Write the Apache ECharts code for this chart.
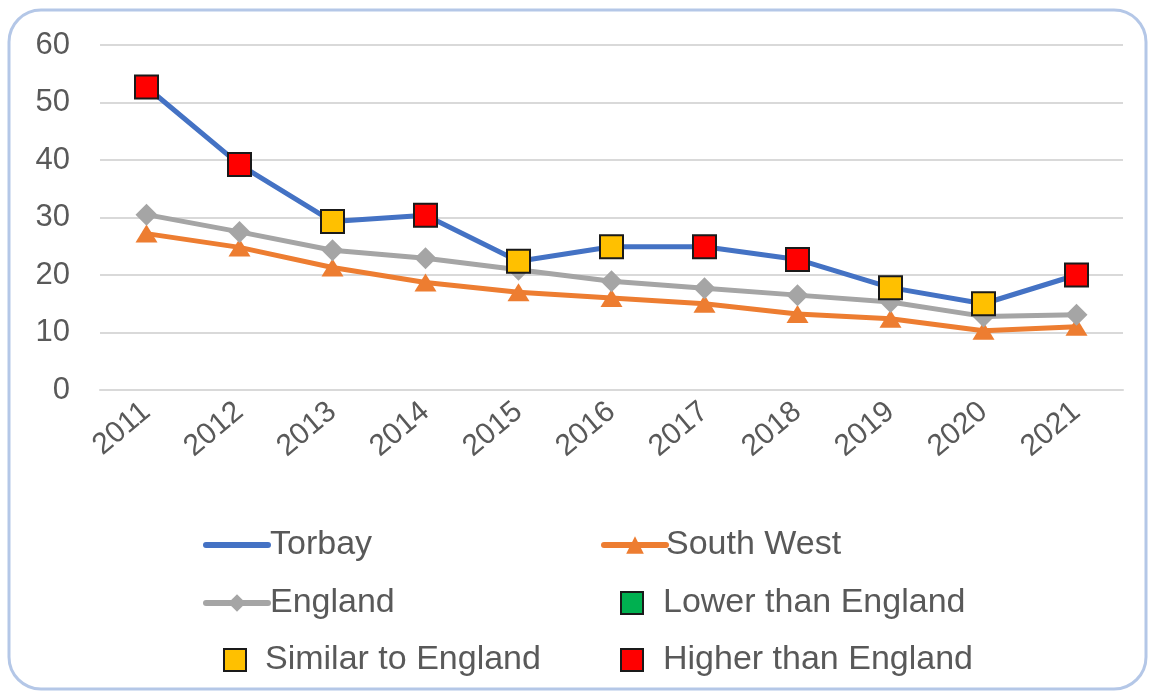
<!DOCTYPE html>
<html>
<head>
<meta charset="utf-8">
<script src="https://cdn.jsdelivr.net/npm/echarts@6/dist/echarts.min.js"></script>
<style>
  html, body { margin: 0; padding: 0; background: #fff; }
  #chart { width: 1149px; height: 696px; }
</style>
</head>
<body>
<div id="chart"></div>
<script>
// years on the x axis
const years = ['2011', '2012', '2013', '2014', '2015', '2016', '2017', '2018', '2019', '2020', '2021']

// rates
const torbay = [52.7, 39.2, 29.3, 30.4, 22.4, 24.9, 24.9, 22.7, 17.8, 15.0, 20.0]
const southWest = [27.2, 24.8, 21.3, 18.7, 17.0, 16.0, 15.0, 13.2, 12.4, 10.3, 11.0]
const england = [30.5, 27.5, 24.3, 22.9, 20.9, 18.9, 17.7, 16.5, 15.3, 12.8, 13.1]

// Torbay compared with England, per year: 'high' or 'similar'
const comparison = ['high', 'high', 'similar', 'high', 'similar', 'similar', 'high', 'high', 'similar', 'similar', 'high']

const yTicks = { min: 0, max: 60, interval: 10 }

const compColors = {
  low: '#00B050',
  similar: '#FFC000',
  high: '#FF0000',
}

const font = 'Liberation Sans, Arial, sans-serif'
const textColor = '#595959'
const markerBorder = '#1a1a1a'

const chart = echarts.init(document.getElementById('chart'))

// one legend per item, laid out like the original 2 column grid
const legendAt = (item, left, top, opts = {}) => ({
  data: [item],
  left,
  top,
  itemWidth: opts.w ?? 62,
  itemHeight: opts.h ?? 22,
  selectedMode: false,
  lineStyle: { width: 6, cap: 'round' },
  textStyle: {
    fontFamily: font,
    fontSize: 34,
    color: textColor,
    padding: opts.pad ?? [0, 0, 0, -3],
  },
})

const squareItem = (name, color) => ({
  name,
  icon: 'rect',
  itemStyle: { color, borderColor: markerBorder, borderWidth: 2, opacity: 1 },
})

const option = {
  animation: false,
  backgroundColor: '#fff',
  graphic: [{
    type: 'rect',
    shape: { x: 9, y: 10, width: 1137, height: 679, r: 32 },
    style: { fill: 'none', stroke: '#B4C7E7', lineWidth: 3 },
    z: -1,
  }],
  grid: { left: 100, right: 26, top: 45, bottom: 306 },
  xAxis: {
    type: 'category',
    data: years,
    axisLine: { lineStyle: { color: '#D9D9D9', width: 2 } },
    axisTick: { show: false },
    axisLabel: {
      rotate: 40,
      fontFamily: font,
      fontSize: 30,
      color: textColor,
      margin: 18,
    },
  },
  yAxis: {
    type: 'value',
    ...yTicks,
    axisLine: { show: false },
    axisTick: { show: false },
    splitLine: { lineStyle: { color: '#D9D9D9', width: 2 } },
    axisLabel: {
      fontFamily: font,
      fontSize: 31,
      color: textColor,
      margin: 30,
    },
  },
  legend: [
    legendAt({ name: 'Torbay', itemStyle: { opacity: 0 } }, 198, 523),
    legendAt('South West', 596, 523, { pad: [0, 0, 0, -5] }),
    legendAt('England', 198, 581),
    legendAt(squareItem('Lower than England', compColors.low), 615, 581, { w: 22, h: 22, pad: [0, 0, 0, 15] }),
    legendAt(squareItem('Similar to England', compColors.similar), 218, 638, { w: 22, h: 22, pad: [0, 0, 0, 14] }),
    legendAt(squareItem('Higher than England', compColors.high), 615, 638, { w: 22, h: 22, pad: [0, 0, 0, 15] }),
  ],
  series: [
    {
      name: 'Torbay',
      type: 'line',
      z: 4,
      data: torbay.map((v, i) => ({
        value: v,
        itemStyle: { color: compColors[comparison[i]] },
      })),
      symbol: 'rect',
      symbolSize: 23,
      lineStyle: { color: '#4472C4', width: 5 },
      itemStyle: { color: '#4472C4', borderColor: markerBorder, borderWidth: 2 },
    },
    {
      name: 'South West',
      type: 'line',
      z: 2,
      data: southWest,
      symbol: 'triangle',
      symbolSize: [22, 18],
      lineStyle: { color: '#ED7D31', width: 5 },
      itemStyle: { color: '#ED7D31' },
    },
    {
      name: 'England',
      type: 'line',
      z: 3,
      data: england,
      symbol: 'diamond',
      symbolSize: 22,
      lineStyle: { color: '#A5A5A5', width: 5 },
      itemStyle: { color: '#A5A5A5' },
    },
    {
      name: 'Lower than England',
      type: 'scatter',
      data: [],
      symbol: 'rect',
      itemStyle: { color: compColors.low, borderColor: markerBorder, borderWidth: 2 },
    },
    {
      name: 'Similar to England',
      type: 'scatter',
      data: [],
      symbol: 'rect',
      itemStyle: { color: compColors.similar, borderColor: markerBorder, borderWidth: 2 },
    },
    {
      name: 'Higher than England',
      type: 'scatter',
      data: [],
      symbol: 'rect',
      itemStyle: { color: compColors.high, borderColor: markerBorder, borderWidth: 2 },
    },
  ],
}

chart.setOption(option)
</script>
</body>
</html>
